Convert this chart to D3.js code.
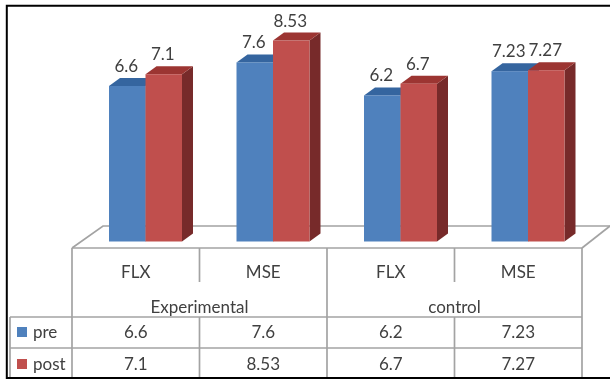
<!DOCTYPE html>
<html lang="en">
<head>
    <meta charset="UTF-8">
    <title>Experimental vs control</title>
    <script src="https://d3js.org/d3.v7.min.js"></script>
    <style>
        body{
            margin: 0;
            background: #fff;
        }
        svg{
            display: block;
        }
        text{
            font-family: Lato, "Open Sans", sans-serif;
            font-size: 17px;
            fill: #404040;
        }
    </style>
</head>
<body>
<svg width="610" height="379"></svg>

<script>
    // values
    const categories = ["FLX", "MSE", "FLX", "MSE"];
    const groups = ["Experimental", "control"];
    const seriesNames = ["pre", "post"];
    const pre = [6.6, 7.6, 6.2, 7.23];
    const post = [7.1, 8.53, 6.7, 7.27];

    const seriesValues = [pre, post];
    const front = ["#4f81bd", "#c0504d"];
    const top_face = ["#35659f", "#9c3533"];
    const side = ["#2f5580", "#772c2a"];
    const grid = "#a3a3a3";

    const svg = d3.select("svg");

    svg.append("defs").append("filter")
        .attr("id", "soft")
        .append("feGaussianBlur")
        .attr("stdDeviation", 0.55);

    const chart = svg.append("g").attr("filter", "url(#soft)");

    // scales
    const left = 72, right = 582;
    const base = 241.5, depthX = 11, depthY = 8;
    const x = d3.scaleBand().domain(d3.range(categories.length)).range([left, right]);
    const inner = d3.scaleBand().domain(d3.range(seriesNames.length)).range([37, 110]);
    const y = d3.scaleLinear().domain([0, 10]).range([base, base - 235.6]);

    // floor of the 3d plot
    const rowY = {head: 248, pre: 317, post: 348, bottom: 377};
    const floorBack = 226;
    chart.append("path")
        .attr("d", d3.line()([[left, rowY.head], [left + 31, floorBack], [610, floorBack]]))
        .attr("fill", "none").attr("stroke", grid).attr("stroke-width", 1.7);
    chart.append("path")
        .attr("d", d3.line()([[right, rowY.head], [610, floorBack]]))
        .attr("fill", "none").attr("stroke", grid).attr("stroke-width", 1.7);

    // bars, left to right so that red covers the blue side
    seriesValues.forEach((vals, s) => {
        const w = inner.bandwidth();
        const g = chart.append("g");
        const bar = g.selectAll("g")
            .data(vals)
            .enter()
            .append("g")
            .attr("transform", (d, i) => `translate(${x(i) + inner(s)},0)`);

        bar.append("path")
            .attr("fill", side[s])
            .attr("d", d => d3.line()([[w, y(d)], [w + depthX, y(d) - depthY], [w + depthX, base - depthY], [w, base]]) + "Z");
        bar.append("path")
            .attr("fill", top_face[s])
            .attr("d", d => d3.line()([[0, y(d)], [depthX, y(d) - depthY], [w + depthX, y(d) - depthY], [w, y(d)]]) + "Z");
        bar.append("rect")
            .attr("fill", front[s])
            .attr("y", d => y(d))
            .attr("width", w)
            .attr("height", d => base - y(d));
    });

    // labels go on last, 7.23 and 7.27 nearly touch
    seriesValues.forEach((vals, s) => {
        chart.append("g").selectAll("text")
            .data(vals)
            .enter()
            .append("text")
            .attr("text-anchor", "middle")
            .attr("x", (d, i) => x(i) + inner(s) + inner.bandwidth() / 2 - 1)
            .attr("y", d => y(d) - 14)
            .text(d => d);
    });

    // data table lines
    const hline = (x1, x2, yy) => chart.append("line")
        .attr("x1", x1).attr("x2", x2).attr("y1", yy).attr("y2", yy)
        .attr("stroke", grid).attr("stroke-width", 1.7);
    const vline = (xx, y1, y2) => chart.append("line")
        .attr("x1", xx).attr("x2", xx).attr("y1", y1).attr("y2", y2)
        .attr("stroke", grid).attr("stroke-width", 1.7);

    hline(left, right, rowY.head);
    hline(10, right, rowY.pre);
    hline(10, right, rowY.post);
    vline(10, rowY.pre, rowY.bottom);
    d3.range(categories.length + 1).forEach(i => {
        const xx = i < categories.length ? x(i) : right;
        // inner lines of a group stop under the category name
        vline(xx, rowY.head, i % 2 ? 282 : rowY.bottom);
        if (i % 2) vline(xx, rowY.pre, rowY.bottom);
    });

    // category names through a real axis
    const axis = d3.axisBottom(x).tickSize(0).tickPadding(0).tickFormat(i => categories[i]);
    chart.append("g")
        .attr("transform", "translate(0,265)")
        .call(axis)
        .call(g => g.select(".domain").remove())
        .selectAll("text")
        .attr("dy", 0)
        .attr("y", 13);

    // group names
    chart.append("g").selectAll("text")
        .data(groups)
        .enter()
        .append("text")
        .attr("text-anchor", "middle")
        .attr("x", (d, i) => x(i * 2 + 1))
        .attr("y", 313)
        .text(d => d);

    // table values and legend keys
    const rowBase = [338, 370];
    seriesValues.forEach((vals, s) => {
        chart.append("g").selectAll("text")
            .data(vals)
            .enter()
            .append("text")
            .attr("text-anchor", "middle")
            .attr("x", (d, i) => x(i) + x.bandwidth() / 2)
            .attr("y", rowBase[s])
            .text(d => d);

        chart.append("rect")
            .attr("x", 17)
            .attr("y", rowBase[s] - 11)
            .attr("width", 10)
            .attr("height", 10)
            .attr("fill", front[s]);
        chart.append("text")
            .attr("x", 33)
            .attr("y", rowBase[s])
            .text(seriesNames[s]);
    });

    // black frame, open on the right
    svg.append("path")
        .attr("d", d3.line()([[610, 5.8], [6.8, 5.8], [6.8, 378], [610, 378]]))
        .attr("fill", "none")
        .attr("stroke", "#000")
        .attr("stroke-width", 2);
</script>
</body>
</html>
